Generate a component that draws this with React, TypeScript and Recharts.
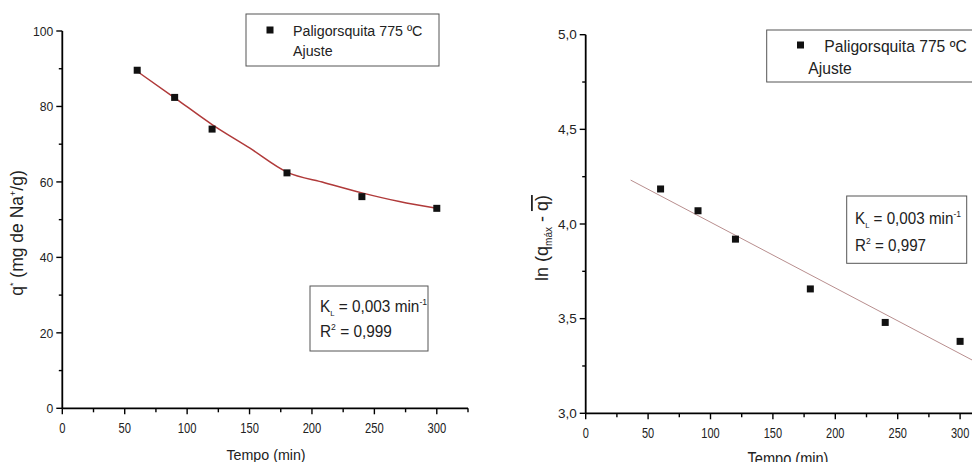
import React from 'react';
import { ComposedChart, Line, Scatter, XAxis, YAxis } from 'recharts';

// Left panel: q* vs tempo
const tempo = [60, 90, 120, 180, 240, 300];
const qExp = [89.6, 82.4, 74.0, 62.4, 56.1, 53.0];
const fitLeftX = [60, 90, 120, 150, 180, 210, 240, 270, 300];
const fitLeftY = [89.3, 82.3, 75.2, 69.0, 62.6, 59.8, 57.1, 54.8, 53.0];

// Right panel: ln(qmax - q) vs tempo
const lnExp = [4.185, 4.07, 3.92, 3.657, 3.48, 3.38];
const fitRightX = [36, 325];
const fitRightY = [4.232, 3.228];

const xTicks = [0, 25, 50, 75, 100, 125, 150, 175, 200, 225, 250, 275, 300, 325];
const yTicksLeft = [0, 10, 20, 30, 40, 50, 60, 70, 80, 90, 100];
const yTicksRight = [3.0, 3.25, 3.5, 3.75, 4.0, 4.25, 4.5, 4.75, 5.0];

const FONT = '"Liberation Sans", Arial, sans-serif';

const leftScatter = tempo.map((x, i) => ({ x, y: qExp[i] }));
const leftFit = fitLeftX.map((x, i) => ({ x, y: fitLeftY[i] }));
const rightScatter = tempo.map((x, i) => ({ x, y: lnExp[i] }));
const rightFit = fitRightX.map((x, i) => ({ x, y: fitRightY[i] }));

const Txt = ({ x, y, size, sx = 1, anchor = 'start', children }: any) => (
  <text
    transform={`translate(${x},${y}) scale(${sx},1)`}
    x={0}
    y={0}
    textAnchor={anchor}
    fontSize={size}
    fontFamily={FONT}
    fill="#222"
  >
    {children}
  </text>
);

const makeXTick = (size: number, sx: number) => (props: any) => {
  const { x, y, payload } = props;
  const v = payload.value;
  const major = v % 50 === 0 && v <= 300;
  return (
    <g>
      <line x1={x} x2={x} y1={y} y2={y + (major ? 6 : 4)} stroke="#000" strokeWidth={1.4} />
      {major && (
        <Txt x={x} y={y + 25} size={size} sx={sx} anchor="middle">
          {v}
        </Txt>
      )}
    </g>
  );
};

const makeYTick = (isMajor: (v: number) => boolean, fmt: (v: number) => string, size: number, sx: number) => (props: any) => {
  const { x, y, payload } = props;
  const v = payload.value;
  const major = isMajor(v);
  return (
    <g>
      <line x1={x} x2={x - (major ? 6 : 3.5)} y1={y} y2={y} stroke="#000" strokeWidth={1.4} />
      {major && (
        <Txt x={x - 9} y={y + 4.7} size={size} sx={sx} anchor="end">
          {fmt(v)}
        </Txt>
      )}
    </g>
  );
};

const XTickLeft = makeXTick(14, 0.8);
const XTickRight = makeXTick(14.5, 0.76);
const YTickLeft = makeYTick((v) => v % 20 === 0, (v) => String(v), 13.5, 0.9);
const YTickRight = makeYTick(
  (v) => Math.abs(v * 2 - Math.round(v * 2)) < 1e-6,
  (v) => v.toFixed(1).replace('.', ','),
  13.5,
  1
);

const Square = (props: any) => {
  const { cx, cy } = props;
  if (cx == null || cy == null) return null;
  return <rect x={cx - 3.5} y={cy - 3.5} width={7} height={7} fill="#111" />;
};

const AXIS = { stroke: '#000', strokeWidth: 1.8 };

export default function App() {
  return (
    <div style={{ position: 'relative', width: 980, height: 470, margin: -8, overflow: 'hidden', background: '#fff' }}>
      <div style={{ position: 'absolute', left: 0, top: 0 }}>
        <ComposedChart width={490} height={470} margin={{ top: 31, right: 22, bottom: 60.7, left: 61.3 }}>
          <XAxis
            type="number"
            dataKey="x"
            domain={[0, 325]}
            ticks={xTicks}
            interval={0}
            height={1}
            tickSize={0}
            tickMargin={0}
            tick={<XTickLeft />}
            axisLine={AXIS}
            allowDataOverflow
          />
          <YAxis
            type="number"
            dataKey="y"
            domain={[0, 100]}
            ticks={yTicksLeft}
            interval={0}
            width={1}
            tickSize={0}
            tickMargin={0}
            tick={<YTickLeft />}
            axisLine={AXIS}
          />
          <Scatter data={leftScatter} dataKey="y" shape={<Square />} isAnimationActive={false} />
          <Line
            data={leftFit}
            dataKey="y"
            type="monotone"
            stroke="#b03a3a"
            strokeWidth={1.5}
            dot={false}
            isAnimationActive={false}
          />
        </ComposedChart>
      </div>
      <div style={{ position: 'absolute', left: 490, top: 0 }}>
        <ComposedChart width={520} height={470} margin={{ top: 34.7, right: 18.7, bottom: 55.7, left: 94.7 }}>
          <XAxis
            type="number"
            dataKey="x"
            domain={[0, 325]}
            ticks={xTicks}
            interval={0}
            height={1}
            tickSize={0}
            tickMargin={0}
            tick={<XTickRight />}
            axisLine={AXIS}
            allowDataOverflow
          />
          <YAxis
            type="number"
            dataKey="y"
            domain={[3, 5]}
            ticks={yTicksRight}
            interval={0}
            width={1}
            tickSize={0}
            tickMargin={0}
            tick={<YTickRight />}
            axisLine={AXIS}
            allowDataOverflow
          />
          <Line
            data={rightFit}
            dataKey="y"
            type="linear"
            stroke="#b88e8e"
            strokeWidth={1}
            dot={false}
            isAnimationActive={false}
          />
          <Scatter data={rightScatter} dataKey="y" shape={<Square />} isAnimationActive={false} />
        </ComposedChart>
      </div>
      <svg width={980} height={470} style={{ position: 'absolute', left: 0, top: 0, pointerEvents: 'none' }} fontFamily={FONT} fill="#222">
        {/* Left axis titles */}
        <Txt x={266} y={459.5} size={15.5} sx={0.92} anchor="middle">Tempo (min)</Txt>
        <text transform="translate(23,233) rotate(-90)" textAnchor="middle" fontSize={17.5}>
          q<tspan dy={-7} fontSize={9}>*</tspan>
          <tspan dy={7}> (mg de Na</tspan>
          <tspan dy={-7} fontSize={9}>+</tspan>
          <tspan dy={7}>/g)</tspan>
        </text>
        {/* Left legend */}
        <rect x={246} y={14} width={193} height={52} fill="#fff" stroke="#555" strokeWidth={1} />
        <rect x={266.5} y={26.5} width={7} height={7} fill="#111" />
        <Txt x={293} y={35.5} size={15} sx={0.95}>Paligorsquita 775 ºC</Txt>
        <Txt x={293} y={56} size={15} sx={0.95}>Ajuste</Txt>
        {/* Left annotation */}
        <rect x={310} y={286} width={118} height={65} fill="#fff" stroke="#555" strokeWidth={1} />
        <Txt x={320} y={312} size={16} sx={0.96}>
          K<tspan dy={4} fontSize={8}>L</tspan>
          <tspan dy={-4}> = 0,003 min</tspan>
          <tspan dy={-7} fontSize={9}>-1</tspan>
        </Txt>
        <Txt x={320} y={337} size={16} sx={0.96}>
          R<tspan dy={-7} fontSize={9}>2</tspan>
          <tspan dy={7}> = 0,999</tspan>
        </Txt>

        {/* Right axis titles */}
        <Txt x={788} y={464.5} size={18} sx={0.81} anchor="middle">Tempo (min)</Txt>
        <text transform="translate(548,238) rotate(-90)" textAnchor="middle" fontSize={18}>
          ln (q<tspan dy={4} fontSize={10}>máx</tspan>
          <tspan dy={-4}> - </tspan>
          <tspan style={{ textDecoration: 'overline' }}>q)</tspan>
        </text>
        {/* Right legend */}
        <rect x={766.7} y={30} width={206} height={52} fill="#fff" stroke="#555" strokeWidth={1} />
        <rect x={797} y={41.5} width={7} height={7} fill="#111" />
        <Txt x={824.3} y={51.8} size={16.5} sx={0.95}>Paligorsquita 775 ºC</Txt>
        <Txt x={808.3} y={73.5} size={16.5} sx={0.95}>Ajuste</Txt>
        {/* Right annotation */}
        <rect x={846.7} y={196} width={120} height={67.3} fill="#fff" stroke="#555" strokeWidth={1} />
        <Txt x={855} y={224} size={16} sx={0.95}>
          K<tspan dy={4} fontSize={8}>L</tspan>
          <tspan dy={-4}> = 0,003 min</tspan>
          <tspan dy={-7} fontSize={9}>-1</tspan>
        </Txt>
        <Txt x={855} y={250.5} size={16} sx={0.95}>
          R<tspan dy={-7} fontSize={9}>2</tspan>
          <tspan dy={7}> = 0,997</tspan>
        </Txt>
      </svg>
    </div>
  );
}
